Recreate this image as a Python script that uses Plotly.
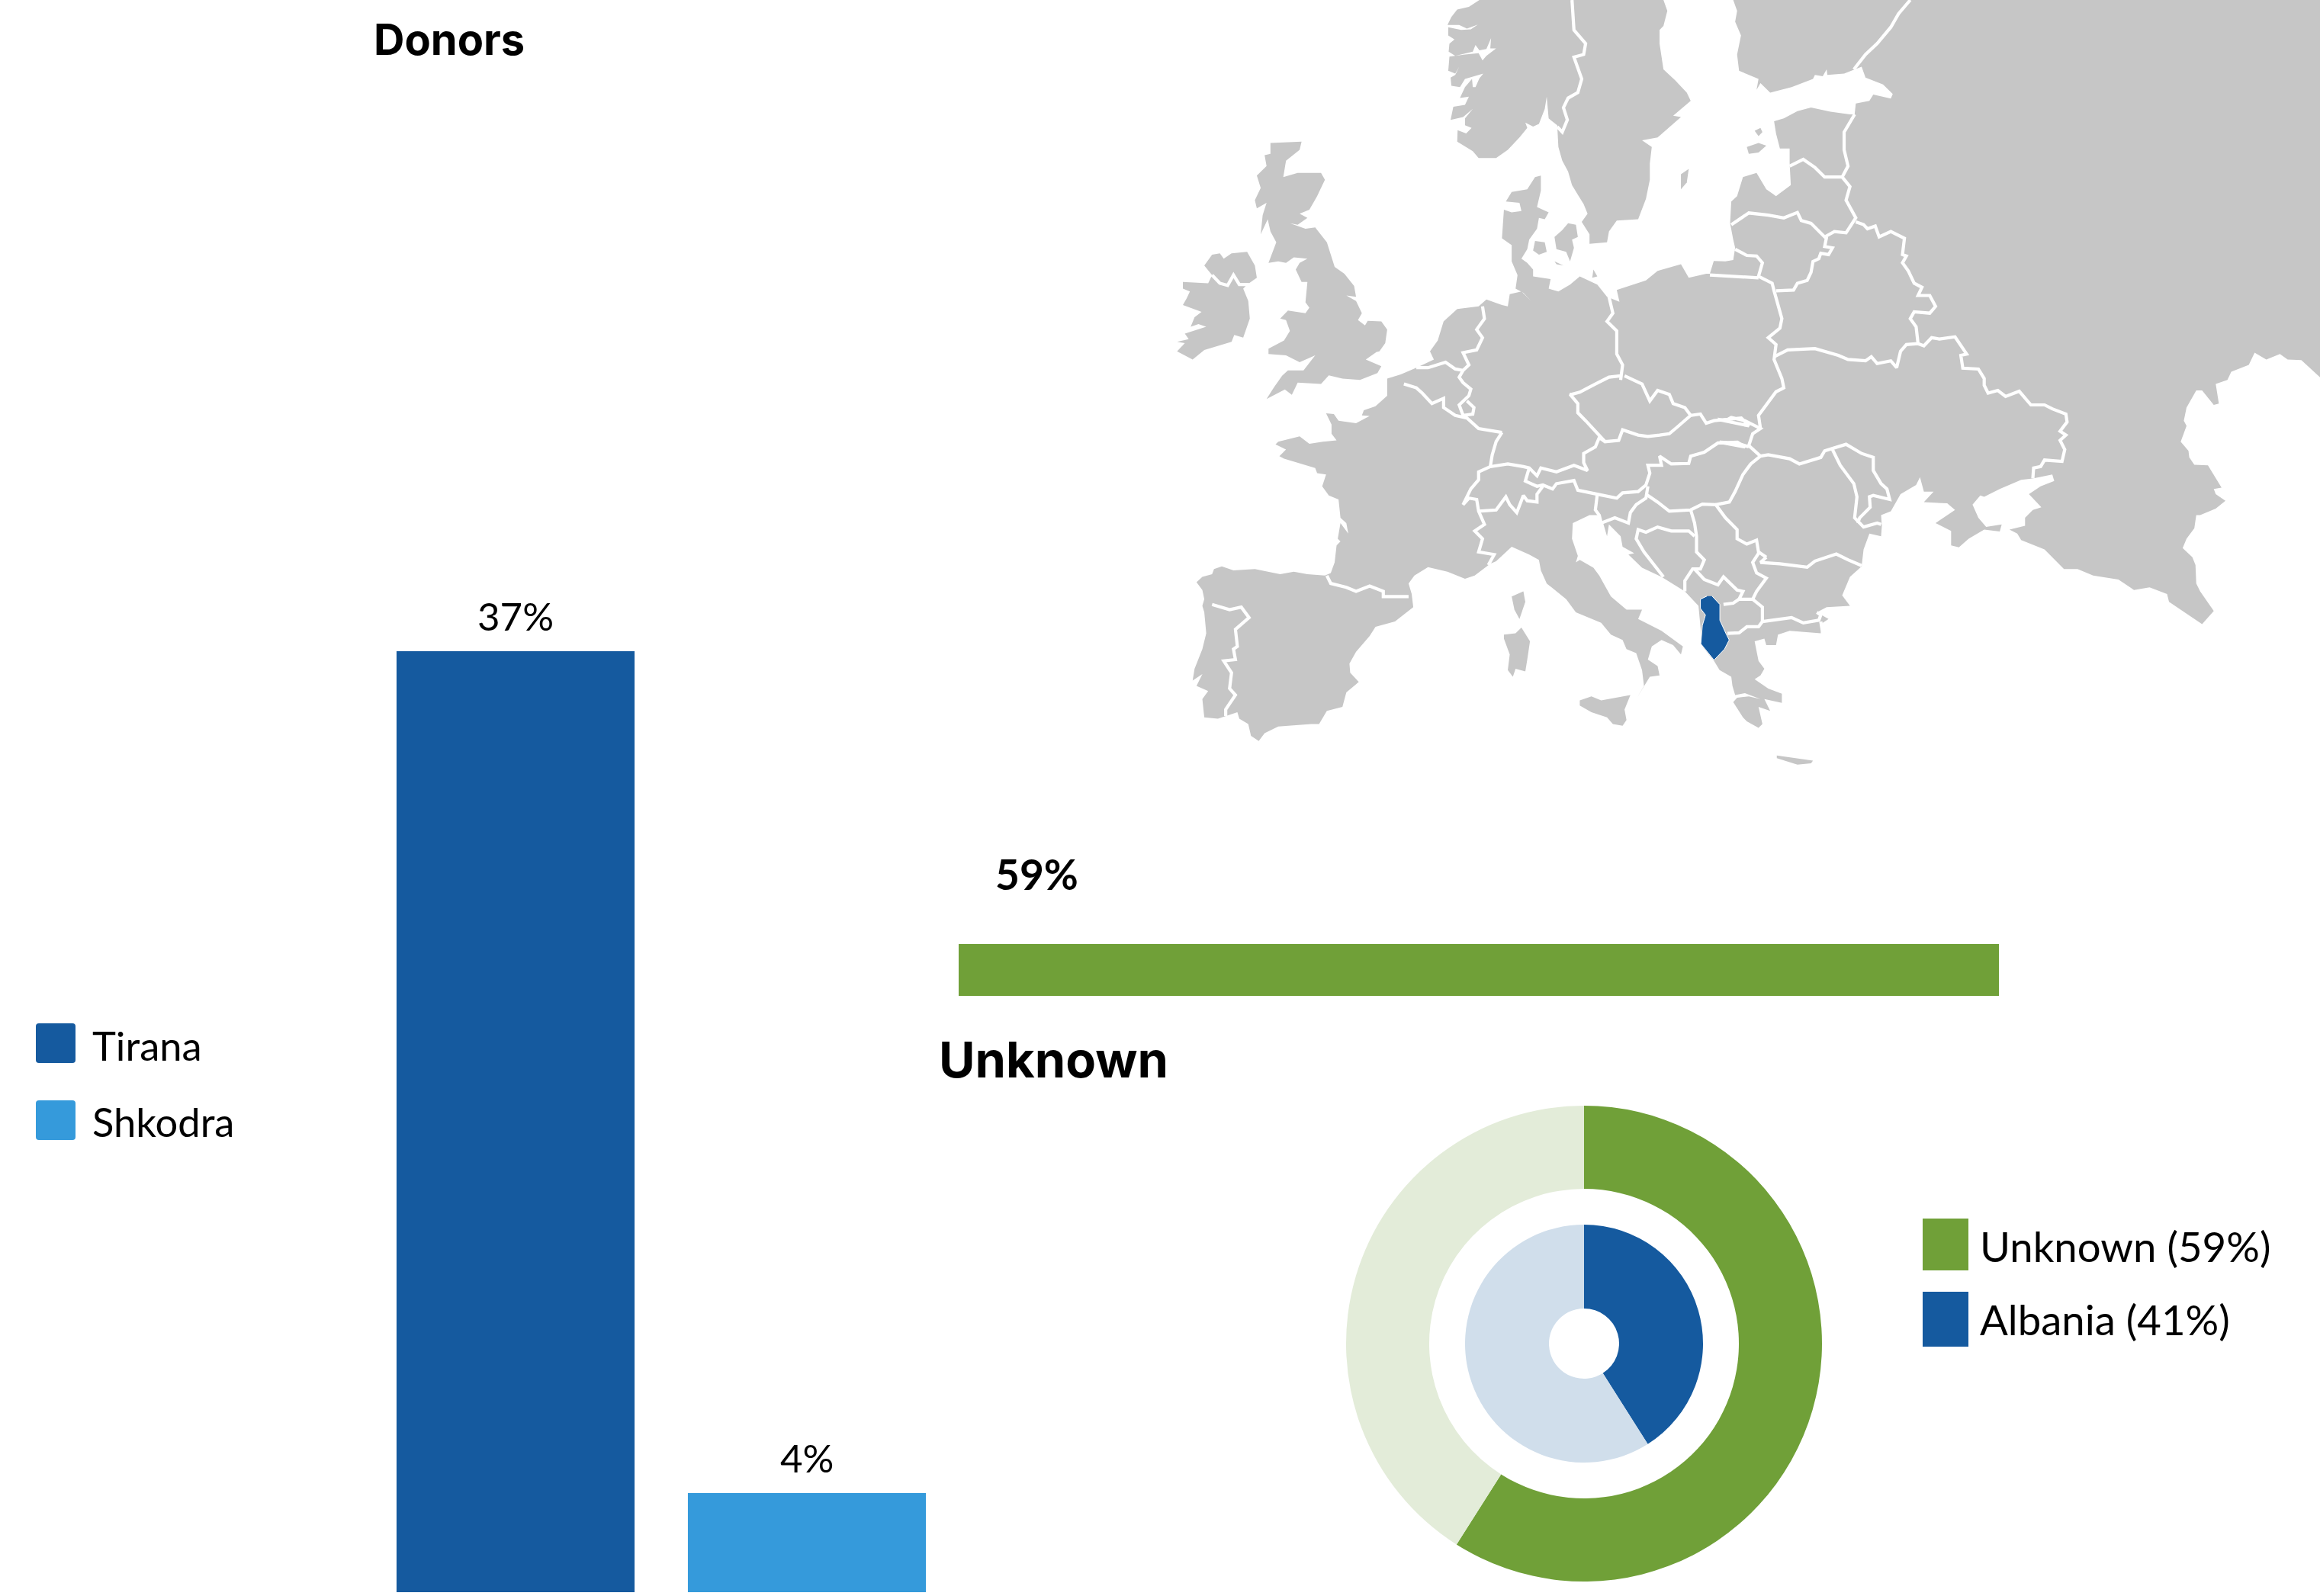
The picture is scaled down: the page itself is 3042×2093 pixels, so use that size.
import plotly.graph_objects as go

W, H = 3042, 2093

# ---------- chart data ----------
bar_cities = ["Tirana", "Shkodra"]
bar_values = [37, 3.9]
bar_labels = ["37%", "4%"]
unknown_value = [59]
unknown_label = "59%"
ring_outer_values = [59, 41]
ring_inner_values = [41, 59]
legend_right = ["Unknown (59%)", "Albania (41%)"]

BLUE, SKY, GREEN = "#155a9f", "#359adb", "#70a038"
PALE_GREEN, PALE_BLUE, LAND = "#e3ecd9", "#d0deeb", "#c6c6c6"

# ---------- map outlines, one tile per quadrant ----------
def A(p): return [(1500 + x / 1.96, y / 2.8) for x, y in p]
def B(p): return [(2242 + x / 1.96, y / 2.8) for x, y in p]
def C(p): return [(1500 + x / 1.96, 500 + y / 2.904) for x, y in p]
def D(p): return [(2242 + x / 1.96, 500 + y / 2.904) for x, y in p]

scandinavia = A([(862,0),(835,25),(805,35),(790,62),(780,92),(810,92),(830,105),(858,90),(840,108),(815,110),(782,100),(782,130),(798,145),(785,160),(783,190),(800,205),(845,190),(852,165),(862,185),(880,180),(892,140),(890,178),(905,178),(880,205),(870,222),(860,195),(825,200),(785,208),(782,260),(800,270),(810,245),(800,275),(788,285),(790,315),(812,320),(825,290),(872,270),(862,288),(852,320),(845,320),(843,290),(825,320),(812,360),(835,355),(825,385),(795,392),(788,440),(820,430),(845,400),(825,435),(825,460),(842,470),(828,490),(806,478),(805,520),(845,555),(860,580),(905,580),(935,550),(965,505),(985,470),(980,450),(1000,465),(1015,455),(1030,400),(1035,355),(1040,435),(1062,460),(1065,540),(1075,590),(1090,630),(1100,680),(1130,750),(1140,785),(1125,815),(1145,860),(1145,895),(1190,890),(1195,850),(1215,810),(1270,805),(1290,730),(1300,660),(1300,600),(1305,540),(1280,515),(1320,505),(1380,430),(1360,425),(1405,370),(1395,340),(1365,295),(1335,255),(1325,160),(1325,110),(1335,95),(1345,40),(1335,0)])

mainland = (
    B([(60,0),(70,40),(65,80),(80,130),(70,200),(75,260),(125,290),(120,330),(130,305),(155,340),(210,320),(265,290),(270,275),(290,280),(300,255),(302,275),(345,270),(390,245),(400,285),(445,310),(470,345),(465,362),(420,347),(410,370),(375,380),(372,420),(360,420),(310,410),(260,395),(225,408),(190,435),(165,445),(170,490),(175,520),(180,545),(205,545),(205,600),(208,680),(170,720),(145,695),(120,635),(85,650),(70,720),(55,740),(52,820),(60,880),(65,910),(60,955),(40,960),(10,958),(0,1005)])
    + A([(1445,1005),(1400,1020),(1380,970),(1320,995),(1290,1030),(1215,1065),(1222,1108),(1190,1090),(1165,1045),(1120,1015),(1095,1045),(1065,1070),(1040,1060),(1045,1025),(1000,1015),(1000,990),(985,965),(970,950),(985,915),(990,880),(1010,840),(1015,800),(1030,805),(1040,780),(1010,760),(1020,700),(1020,645),(1005,650),(985,695),(945,705),(930,740),(965,745),(970,775),(945,780),(925,770),(920,875),(945,900),(945,960),(960,1010),(955,1060),(975,1075),(995,1105),(970,1070),(940,1080),(935,1125),(920,1120),(880,1100),(860,1125),(805,1135),(770,1180),(755,1250),(735,1290),(745,1320),(700,1350),(660,1375),(625,1390)])
    + C([(625,55),(595,95),(565,110),(560,130),(580,132),(545,160),(500,150),(488,125),(468,122),(482,165),(482,200),(495,225),(460,230),(425,238),(400,210),(345,230),(338,240),(365,260),(348,285),(360,295),(440,330),(445,350),(468,355),(458,400),(475,435),(500,450),(505,520),(520,540),(525,580),(505,540),(498,600),(505,610),(495,625),(490,690),(480,730),(465,740),(420,735),(385,725),(350,735),(285,715),(230,720),(200,705),(180,715),(175,735),(150,745),(135,765),(150,795),(155,830),(150,855),(155,880),(160,960),(150,1020),(130,1095),(125,1140),(150,1115),(135,1160),(165,1180),(150,1210),(155,1280),(190,1285),(210,1275),(240,1260),(245,1285),(268,1305),(275,1350),(295,1370),(310,1340),(345,1315),(430,1305),(450,1305),(470,1255),(510,1240),(520,1185),(552,1145),(530,1110),(528,1075),(545,1030),(580,970),(595,935),(645,915),(692,860),(688,810),(680,770),(695,740),(730,708),(780,725),(825,752),(850,740),(890,695),(905,685),(945,630),(990,660),(1015,680),(1020,720),(1035,770),(1085,830),(1110,880),(1175,920),(1200,965),(1230,985),(1240,1020),(1265,1035),(1280,1100),(1285,1160),(1265,1210),(1300,1125),(1325,1120),(1320,1085),(1295,1060),(1305,1010),(1330,985),(1360,1005),(1380,1040),(1385,1010),(1330,950),(1270,905),(1280,870),(1240,870),(1200,820),(1170,740),(1155,710),(1120,680),(1110,690),(1115,665),(1100,600),(1102,540),(1145,510),(1168,510),(1180,540),(1190,590),(1195,545),(1225,590),(1230,630),(1260,655),(1245,660),(1280,710),(1330,745),(1390,800),(1425,855),(1435,1010),(1465,1065)])
    + D([(25,1100),(55,1125),(58,1160),(65,1195),(90,1188),(130,1210),(100,1200),(70,1205),(60,1222),(85,1280),(95,1295),(125,1320),(135,1305),(125,1240),(155,1255),(140,1210),(185,1225),(185,1190),(150,1170),(115,1135),(130,1120),(140,1095),(125,1065),(115,990),(140,980),(145,1005),(170,1005),(175,965),(205,950),(285,960),(290,920),(305,905),(275,880),(300,860),(360,855),(340,815),(360,745),(390,705),(395,640),(410,580),(440,590),(442,550),(440,510),(465,495),(490,430),(530,395),(540,365),(550,420),(575,420),(550,460),(610,465),(630,490),(580,540),(620,570),(620,625),(640,632),(665,600),(705,565),(745,572),(750,545),(710,555),(690,520),(675,470),(695,435),(705,440),(745,410),(800,375),(830,370),(880,355),(885,380),(850,400),(820,430),(852,480),(830,490),(810,520),(810,550),(770,565),(790,580),(800,605),(860,640),(910,715),(945,715),(985,740),(1050,755),(1090,795),(1130,785),(1175,810),(1180,840),(1245,905),(1265,925),(1295,875),(1260,800),(1250,770),(1248,700),(1240,670),(1215,635),(1225,600),(1245,560),(1250,510),(1260,510),(1300,485),(1325,455),(1300,430),(1295,410),(1315,405),(1280,320),(1245,318),(1232,290),(1230,265),(1210,230),(1225,170),(1218,150),(1225,100),(1250,35),(1265,35),(1295,90),(1308,85),(1300,10)])
    + B([(1300,1410),(1330,1395),(1340,1365),(1385,1340),(1400,1295),(1430,1320),(1465,1300),(1485,1320),(1520,1322),(1568,1385),(1568,0)])
)

great_britain = A([(325,525),(405,520),(400,550),(365,590),(358,650),(395,635),(455,635),(465,660),(445,720),(425,770),(400,785),(420,800),(395,825),(375,820),(415,840),(440,835),(470,890),(490,980),(515,1005),(540,1050),(545,1090),(520,1085),(545,1105),(560,1150),(550,1175),(568,1195),(575,1178),(610,1180),(625,1210),(620,1260),(605,1290),(575,1300),(600,1290),(570,1320),(610,1345),(600,1370),(555,1395),(510,1390),(475,1378),(455,1410),(395,1405),(380,1450),(362,1430),(315,1465),(335,1420),(355,1380),(370,1360),(410,1360),(440,1305),(400,1330),(365,1305),(320,1300),(320,1280),(360,1250),(375,1215),(365,1175),(350,1170),(370,1140),(415,1150),(425,1130),(415,1110),(420,1035),(405,1035),(390,990),(400,965),(420,950),(385,945),(365,965),(345,960),(320,965),(340,890),(325,850),(318,805),(300,860),(305,790),(315,745),(290,765),(285,735),(300,690),(290,645),(315,610),(310,570),(325,565)])
ireland = A([(100,1035),(165,1040),(175,1010),(155,975),(175,935),(195,930),(205,950),(225,930),(265,925),(285,975),(290,1020),(265,1045),(255,1060),(268,1105),(272,1170),(255,1240),(232,1230),(225,1255),(155,1285),(125,1320),(85,1290),(105,1260),(85,1255),(115,1245),(105,1225),(160,1200),(140,1190),(120,1200),(130,1165),(148,1145),(100,1120),(110,1095),(118,1070),(100,1060)])
funen = A([(1005,885),(1030,890),(1035,925),(1015,935),(1000,920)])
zealand = A([(1075,845),(1090,820),(1110,825),(1115,870),(1100,880),(1105,910),(1095,960),(1085,925),(1060,915),(1055,870)])
lolland = A([(1055,960),(1078,975),(1060,970)])
gotland = A([(1380,640),(1400,620),(1395,670),(1380,695)])
rugen = A([(1155,990),(1165,1015),(1152,1020)])
saaremaa = B([(95,540),(125,525),(145,535),(125,560),(100,565)])
hiiumaa = B([(115,480),(130,470),(135,485),(125,500)])
sicily = C([(1120,1215),(1150,1200),(1175,1215),(1250,1195),(1235,1250),(1240,1290),(1230,1312),(1205,1305),(1190,1280),(1150,1260),(1120,1235)])
sardinia = C([(925,965),(955,960),(970,938),(992,990),(985,1060),(980,1105),(955,1095),(948,1125),(935,1100),(940,1040),(925,980)])
corsica = C([(945,820),(975,800),(980,840),(965,905),(952,870)])
crete = D([(172,1425),(215,1435),(265,1445),(260,1455),(225,1460),(172,1435)])
land_parts = [scandinavia, mainland, great_britain, ireland, funen, zealand, lolland, gotland,
              rugen, saaremaa, hiiumaa, sicily, sardinia, corsica, crete]

albania = C([(1447,818),(1430,830),(1430,865),(1443,890),(1435,930),(1431,1000),(1465,1062),(1492,1020),(1504,985),(1497,965),(1480,910),(1480,850),(1460,818)])

borders = [
    A([(1100,0),(1105,110),(1135,160),(1130,200),(1105,210),(1125,290),(1115,340),(1090,360),(1078,395),(1088,440),(1075,485),(1062,465)]),
    A([(175,1010),(195,1040),(215,1048),(230,1010),(245,1045),(270,1045)]),
    B([(515,0),(485,50),(465,100),(430,160),(400,200),(370,255)]),
    B([(372,420),(345,485),(345,550),(355,610),(340,650),(360,685),(350,735),(375,800),(350,855),(320,850),(295,870),(260,820),(235,810),(225,780),(190,800),(150,790),(100,782),(55,825)]),
    B([(205,610),(240,585),(270,615),(295,650),(340,650)]),
    B([(300,870),(295,905),(315,910),(305,935),(285,930),(280,950),(265,960),(260,1000),(250,1030),(225,1040),(215,1065),(170,1068)]),
    B([(65,915),(95,938),(120,940),(135,965),(125,1015),(160,1040),(165,1068),(185,1170),(180,1205),(150,1240),(170,1265),(165,1320),(185,1390)]) + D([(190,25),(170,40),(125,130),(130,180)]),
    B([(0,1010),(125,1020)]),
    B([(375,815),(395,825),(405,840),(425,830),(435,870),(465,850),(500,875),(495,935),(505,940),(495,965),(510,995),(525,1040),(545,1055),(535,1085),(565,1085),(580,1125),(565,1150),(525,1145),(515,1170),(530,1200),(535,1262)]),
    B([(165,1310),(200,1285),(270,1280),(330,1305),(355,1320),(400,1325),(415,1310),(430,1335),(465,1325),(480,1350),(490,1290),(505,1265),(535,1262),(550,1270),(570,1240),(590,1245),(630,1237),(660,1300),(645,1305),(650,1352),(690,1355),(705,1390)]) + D([(705,15),(715,45),(740,35),(760,58),(795,38),(825,90),(860,90),(880,105),(915,125),(918,155),(900,190),(915,205),(900,225),(912,260),(905,305),(860,300),(850,325),(832,330),(830,370)]),
    A([(1195,1090),(1205,1150),(1190,1180),(1215,1215),(1215,1270),(1215,1300),(1230,1340),(1225,1395)]),
    A([(1225,1380),(1195,1385),(1160,1410),(1120,1440),(1100,1448)]) + C([(1095,50),(1115,85),(1115,120),(1135,150),(1165,200),(1185,230),(1220,225),(1230,185),(1270,205),(1295,210),(1325,205),(1350,200),(1370,175),(1405,130)]),
    A([(1235,1380),(1280,1410)]) + C([(1300,75),(1320,35),(1350,50),(1360,85),(1390,100),(1405,130),(1430,125),(1445,160),(1465,150),(1500,145),(1535,140),(1555,170)]) + D([(20,145),(40,150),(55,138),(90,150),(130,180),(110,200),(100,245),(130,285),(105,315),(85,355),(65,420),(50,460),(15,470)]),
    C([(1185,230),(1170,215),(1160,250),(1130,275),(1130,310),(1140,340),(1105,320),(1060,345),(1020,330),(1010,360),(990,330),(975,325),(935,315),(890,325),(860,345),(860,375),(840,410),(825,455),(820,470),(835,445),(855,450),(860,495),(875,545),(850,570),(870,600),(860,650),(900,660),(885,700)]),
    C([(990,330),(980,380),(1010,400),(1025,395),(1050,410),(1060,390),(1105,378),(1115,415),(1165,430),(1215,445),(1230,425),(1270,420),(1290,395),(1300,350),(1295,320),(1330,320),(1325,285),(1355,315),(1400,313),(1405,285),(1440,270),(1475,235),(1525,232),(1545,250)]) + D([(25,232),(70,235),(100,250)]),
    C([(860,495),(905,490),(930,440),(940,470),(958,500),(975,435),(985,455),(1010,460),(1010,430),(1025,400)]),
    C([(920,195),(905,230),(895,280),(890,325)]),
    C([(668,10),(700,25),(715,45),(740,85),(770,65),(770,100),(800,130),(830,140),(860,180),(920,195)]),
    A([(870,1125),(875,1170),(855,1210),(870,1240),(855,1285),(820,1295),(835,1340),(820,1360),(810,1385),(820,1405)]) + C([(840,30),(835,55),(810,90),(820,130),(845,125),(848,100),(830,75)]),
    A([(700,1350),(730,1350),(775,1330),(800,1355),(820,1360)]),
    C([(470,740),(480,770),(520,785),(545,800),(580,780),(615,800),(615,820),(680,820)]),
    C([(175,850),(220,870),(250,860),(270,900),(235,945),(240,1010),(230,1020),(235,1060),(205,1065),(225,1110),(220,1170),(235,1195),(210,1250),(210,1275)]),
    C([(1165,430),(1160,490),(1170,510),(1175,540),(1210,520),(1245,540),(1250,500),(1265,470),(1290,445),(1295,400)]),
    C([(1290,430),(1320,460),(1350,495),(1405,490),(1435,468),(1470,470)]) + D([(15,470),(40,520),(70,565),(70,600),(95,620),(120,605),(125,650),(145,670)]),
    C([(1405,490),(1415,540),(1420,590),(1420,650),(1440,680),(1430,715),(1410,715),(1390,760),(1390,800)]),
    C([(1415,590),(1400,570),(1355,570),(1320,555),(1290,575),(1270,565),(1265,600),(1285,650),(1335,745)]),
    C([(1415,715),(1440,755),(1475,775)]) + D([(35,745),(70,795),(85,800),(75,830),(110,830),(120,800),(145,750),(120,730),(110,690),(125,655)]),
    D([(35,850),(60,845),(75,830)]),
    D([(110,830),(135,860),(135,915),(125,935),(95,935),(75,958),(45,960)]),
    D([(145,670),(130,690),(180,695),(250,708),(270,685),(325,658),(355,680),(390,702)]),
    D([(135,915),(190,905),(210,900),(240,920),(280,910),(285,890),(275,880)]),
    D([(285,915),(290,960)]),
    D([(130,285),(150,280),(205,295),(230,315),(285,290),(295,265),(350,240),(390,275),(420,290),(420,340),(440,390),(455,410),(462,450),(420,435),(410,440),(412,480),(385,520),(380,540)]),
    D([(315,260),(335,320),(370,390),(378,440),(372,520),(395,555),(430,540),(440,545)]),
]

# ---------- figure ----------
fig = go.Figure()
def fx(a, b): return [a / W, b / W]
def fy(top, bottom): return [(H - bottom) / H, (H - top) / H]

# full-page plane holding the map and the hand-placed legends
for part in land_parts:
    fig.add_trace(go.Scatter(x=[p[0] for p in part], y=[p[1] for p in part], mode="lines", fill="toself",
                             fillcolor=LAND, line=dict(color=LAND, width=0), xaxis="x3", yaxis="y3",
                             hoverinfo="skip", showlegend=False))
for line in borders:
    fig.add_trace(go.Scatter(x=[p[0] for p in line], y=[p[1] for p in line], mode="lines",
                             line=dict(color="white", width=4.2, shape="linear"), xaxis="x3", yaxis="y3",
                             hoverinfo="skip", showlegend=False))
fig.add_trace(go.Scatter(x=[p[0] for p in albania], y=[p[1] for p in albania], mode="lines", fill="toself",
                         fillcolor=BLUE, line=dict(color="white", width=1), xaxis="x3", yaxis="y3",
                         hoverinfo="skip", showlegend=False))

# Tirana / Shkodra columns
fig.add_trace(go.Bar(x=bar_cities, y=bar_values, width=0.817, marker=dict(color=[BLUE, SKY], line_width=0),
                     showlegend=False, xaxis="x", yaxis="y"))
# Unknown bar
fig.add_trace(go.Bar(x=unknown_value, y=["Unknown"], orientation="h", width=1, marker=dict(color=GREEN, line_width=0),
                     showlegend=False, xaxis="x2", yaxis="y2"))

# Concentric rings
fig.add_trace(go.Pie(values=ring_outer_values, marker=dict(colors=[GREEN, PALE_GREEN], line_width=0), hole=203 / 312,
                     sort=False, direction="clockwise", rotation=0, textinfo="none", showlegend=False,
                     domain=dict(x=fx(1765, 2389), y=fy(1450, 2074))))
fig.add_trace(go.Pie(values=ring_inner_values, marker=dict(colors=[BLUE, PALE_BLUE], line_width=0), hole=46 / 156,
                     sort=False, direction="clockwise", rotation=0, textinfo="none", showlegend=False,
                     domain=dict(x=fx(1921, 2233), y=fy(1606, 1918))))

def text(s, x, y, size, family="Lato", weight=400):
    return dict(text=s, x=x, y=y, xref="x3", yref="y3", xanchor="left", yanchor="middle", showarrow=False,
                font=dict(family=family, size=size, color="#000000", weight=weight))

def bar_label(s, city, value):
    return dict(text=s, x=city, y=value, xref="x", yref="y", xanchor="center", yanchor="bottom", yshift=14,
                showarrow=False, font=dict(family="Lato", size=51, color="#000000"))

def swatch(x0, y0, x1, y1, color, r=0):
    if r == 0:
        return dict(type="rect", xref="x3", yref="y3", x0=x0, y0=y0, x1=x1, y1=y1, fillcolor=color, line_width=0)
    path = (f"M{x0+r},{y0} L{x1-r},{y0} Q{x1},{y0} {x1},{y0+r} L{x1},{y1-r} Q{x1},{y1} {x1-r},{y1} "
            f"L{x0+r},{y1} Q{x0},{y1} {x0},{y1-r} L{x0},{y0+r} Q{x0},{y0} {x0+r},{y0} Z")
    return dict(type="path", xref="x3", yref="y3", path=path, fillcolor=color, line_width=0)

fig.update_layout(
    width=W, height=H, autosize=False, margin=dict(l=0, r=0, t=0, b=0), paper_bgcolor="white",
    plot_bgcolor="rgba(0,0,0,0)",
    xaxis=dict(domain=fx(485, 1249), range=[-0.5, 1.5], visible=False),
    yaxis=dict(domain=fy(854, 2088), range=[0, 37], visible=False),
    xaxis2=dict(domain=fx(1257, 2621), range=[0, 59], visible=False),
    yaxis2=dict(domain=fy(1238, 1306), range=[-0.5, 0.5], visible=False),
    xaxis3=dict(domain=[0, 1], range=[0, W], visible=False),
    yaxis3=dict(domain=[0, 1], range=[H, 0], visible=False),
    shapes=[swatch(47, 1342, 99, 1394, BLUE, 4), swatch(47, 1443, 99, 1495, SKY, 4),
            swatch(2521, 1598, 2581, 1666, GREEN), swatch(2521, 1694, 2581, 1766, BLUE)],
    annotations=[
        bar_label(bar_labels[0], bar_cities[0], bar_values[0]),
        bar_label(bar_labels[1], bar_cities[1], bar_values[1]),
        text("Donors", 488, 52, 56, "Inter", 700),
        text("Unknown", 1229, 1389, 65, "Inter", 700),
        text(unknown_label, 1303, 1146, 55, "Lato", 700),
        text(bar_cities[0], 119, 1370, 52.5),
        text(bar_cities[1], 119, 1470, 52.5),
        text(legend_right[0], 2594, 1634, 54.5),
        text(legend_right[1], 2594, 1730, 54.5),
    ],
)
fig.write_html("out.html", config=dict(displayModeBar=False),
               post_script="document.body.style.margin='0';document.documentElement.style.overflow='hidden';")
